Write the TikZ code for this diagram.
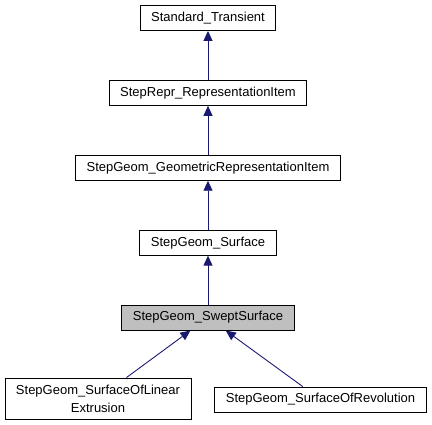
\documentclass[tikz,border=0pt]{standalone}
\usepackage{fontspec}
\setmainfont{Liberation Sans}
\usetikzlibrary{arrows.meta,positioning}
\definecolor{edgeblue}{HTML}{191970}

\begin{document}
\begin{tikzpicture}[x=1pt,y=1pt,node distance=49pt,
  cls/.style={draw=black,fill=white,line width=0.9pt,inner xsep=11pt,inner ysep=2pt,
    minimum height=25pt,align=center,font=\fontsize{13}{15}\selectfont},
  cur/.style={cls,fill=black!25},
  inh/.style={draw=edgeblue,line width=0.9pt,-{Triangle[length=10pt,width=9pt]}}]
\useasboundingbox (0,0) rectangle (432,-425);
% chain of base classes
\node [cls] (trans) at (208,-18) {Standard\_Transient};
\node [cls,below=of trans] (repitem) {StepRepr\_RepresentationItem};
\node [cls,below=of repitem] (geomitem) {StepGeom\_GeometricRepresentationItem};
\node [cls,below=of geomitem] (surf) {StepGeom\_Surface};
\node [cur,below=of surf] (swept) {StepGeom\_SweptSurface};
% derived classes
\node [cls,minimum height=41pt] (linext) at (98,-398.5) {StepGeom\_SurfaceOfLinear\\[3pt]Extrusion};
\node [cls] (revol) at (320.5,-399.5) {StepGeom\_SurfaceOfRevolution};
\draw [inh] (repitem) -- (trans);
\draw [inh] (geomitem) -- (repitem);
\draw [inh] (surf) -- (geomitem);
\draw [inh] (swept) -- (surf);
\draw [inh] (linext) -- (swept);
\draw [inh] (revol) -- (swept);
\end{tikzpicture}
\end{document}
